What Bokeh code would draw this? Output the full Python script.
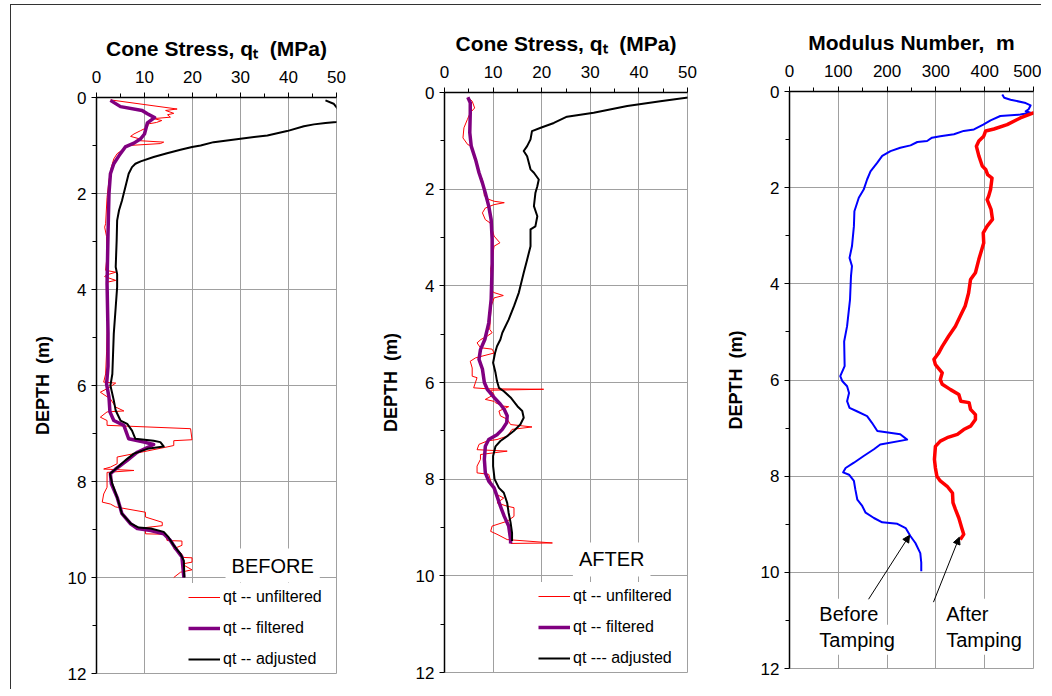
from bokeh.plotting import figure
from bokeh.models import Range1d, FixedTicker, Legend, LegendItem, Label, Arrow, NormalHead
from bokeh.layouts import row
from bokeh.embed import file_html
from bokeh.resources import INLINE

FONT = "Liberation Sans"

# ---------------- Panel 1: BEFORE (cone stress, MPa vs depth, m) ----------------
b_unf_d = [0.05, 0.24, 0.27, 0.33, 0.36, 0.41, 0.44, 0.48, 0.52, 0.55, 0.62, 0.69, 0.76, 0.81, 0.86,
           0.90, 0.93, 0.96, 1.00, 1.07, 1.12, 1.17, 1.28, 1.45, 1.73, 2.08, 2.63, 2.70, 2.90, 3.30,
           3.60, 3.64, 3.70, 3.73, 3.81, 3.85, 4.23, 4.60, 4.92, 5.30, 5.76, 5.93, 5.95, 6.05, 6.14,
           6.28, 6.45, 6.53, 6.55, 6.66, 6.73, 6.83, 6.90, 7.13, 7.15, 7.25, 7.28, 7.42, 7.49, 7.63,
           7.70, 7.74, 7.77, 7.81, 8.12, 8.26, 8.43, 8.47, 8.53, 8.64, 8.74, 8.85, 8.92, 8.96, 9.09,
           9.10, 9.23, 9.24, 9.33, 9.40, 9.51, 9.58, 9.59, 9.68, 9.72, 9.84, 9.89, 10.0]
b_unf_q = [2.9, 16.8, 14.4, 16.1, 14.8, 15.4, 11.9, 13.6, 12.5, 10.8, 10.6, 9.2, 7.8, 7.1, 8.9,
           9.0, 14.0, 13.3, 6.7, 5.7, 5.0, 4.3, 3.6, 3.1, 2.6, 2.2, 1.9, 1.7, 2.1, 2.2,
           1.9, 4.0, 2.0, 1.7, 4.0, 2.1, 2.1, 2.3, 2.2, 2.1, 1.9, 1.5, 4.0, 2.5, 0.8,
           2.9, 4.0, 5.7, 2.2, 0.8, 2.2, 2.2, 19.6, 19.9, 16.1, 16.1, 14.7, 7.8, 4.3, 4.3,
           2.9, 1.5, 7.8, 2.2, 2.2, 1.5, 1.2, 2.9, 4.0, 10.2, 10.2, 13.7, 13.7, 10.2, 10.2,
           14.4, 14.7, 17.8, 17.8, 16.1, 17.8, 17.8, 19.9, 19.9, 17.8, 19.9, 17.5, 16.1]

b_fil_d = [0.06, 0.19, 0.27, 0.34, 0.42, 0.53, 0.76, 0.86, 0.95, 1.03, 1.21, 1.38, 1.59, 2.0, 2.84,
           3.88, 4.9, 5.6, 5.97, 6.24, 6.55, 6.73, 6.83, 7.11, 7.18, 7.23, 7.39, 7.56, 7.74, 7.84,
           8.05, 8.33, 8.67, 8.88, 8.98, 9.02, 9.09, 9.23, 9.4, 9.57, 10.0]
b_fil_q = [2.9, 5.0, 9.5, 10.6, 12.1, 10.6, 10.0, 9.2, 7.8, 6.0, 4.7, 3.6, 2.9, 2.6, 2.4,
           2.2, 2.4, 2.4, 2.1, 2.6, 2.8, 3.6, 5.7, 6.7, 9.9, 11.9, 8.5, 6.4, 4.0, 2.9,
           3.1, 4.3, 5.3, 7.1, 8.5, 11.3, 14.0, 15.4, 16.5, 17.8, 18.2]

b_adj_d = [0.06, 0.13, 0.24, 0.37, 0.51, 0.53, 0.56, 0.6, 0.7, 0.79, 0.86, 0.93, 1.0, 1.03, 1.09,
           1.16, 1.24, 1.33, 1.38, 1.45, 1.59, 1.87, 2.15, 2.35, 2.56, 2.98, 3.53, 3.68, 3.95, 4.37,
           4.92, 5.76, 6.0, 6.31, 6.52, 6.73, 6.8, 6.94, 7.11, 7.15, 7.18, 7.27, 7.32, 7.42, 7.56,
           7.74, 7.84, 8.05, 8.33, 8.67, 8.87, 8.96, 8.98, 9.05, 9.16, 9.33, 9.51, 9.65, 10.0]
b_adj_q = [47.7, 49.4, 50.3, 62.0, 50.0, 47.7, 45.3, 43.2, 39.7, 35.6, 30.0, 24.4, 21.7, 19.9, 17.5,
           14.7, 11.9, 9.2, 8.1, 7.4, 6.7, 6.0, 5.3, 4.7, 4.3, 4.2, 4.0, 4.3, 4.3, 4.0,
           3.6, 3.3, 2.9, 3.6, 4.0, 5.0, 6.4, 7.4, 8.1, 11.9, 13.3, 14.0, 10.6, 7.8, 6.0,
           4.0, 2.8, 3.3, 4.3, 5.3, 7.1, 8.8, 11.3, 14.0, 15.0, 16.1, 17.5, 18.2, 18.3]

# ---------------- Panel 2: AFTER ----------------
a_unf_d = [0.1, 0.18, 0.32, 0.42, 0.56, 0.73, 0.94, 1.08, 1.11, 1.32, 1.52, 1.66, 1.8, 2.01, 2.14,
           2.21, 2.25, 2.28, 2.32, 2.39, 2.49, 2.63, 2.7, 2.83, 2.97, 3.11, 3.18, 3.46, 3.66, 4.01,
           4.08, 4.14, 4.2, 4.25, 4.42, 4.9, 4.97, 5.04, 5.11, 5.18, 5.28, 5.31, 5.39, 5.49, 5.56,
           5.7, 5.87, 5.9, 6.11, 6.13, 6.14, 6.16, 6.25, 6.35, 6.39, 6.42, 6.49, 6.5, 6.59, 6.69,
           6.76, 6.87, 6.92, 6.97, 7.11, 7.18, 7.21, 7.28, 7.39, 7.42, 7.49, 7.59, 7.73, 7.87, 7.9,
           8.14, 8.32, 8.39, 8.49, 8.56, 8.59, 8.77, 8.87, 8.97, 9.08, 9.14, 9.25, 9.32, 9.33]
a_unf_q = [4.8, 5.7, 6.2, 5.3, 4.7, 4.0, 3.8, 4.8, 5.7, 6.0, 6.7, 7.1, 7.8, 8.1, 8.2,
           9.1, 10.2, 12.3, 10.2, 8.4, 7.8, 8.4, 9.4, 9.8, 10.2, 11.4, 10.2, 9.8, 9.5, 9.8,
           9.5, 10.2, 12.1, 10.2, 9.6, 9.3, 9.8, 8.8, 7.5, 6.7, 7.4, 9.8, 10.2, 6.4, 5.3,
           5.7, 5.7, 6.7, 6.0, 8.8, 20.4, 9.5, 10.2, 8.4, 10.2, 10.5, 12.2, 13.2, 11.2, 11.5,
           12.9, 13.6, 18.0, 13.9, 12.9, 10.8, 8.8, 7.1, 6.7, 12.9, 7.4, 7.4, 6.7, 6.7, 9.1,
           9.8, 10.8, 12.2, 10.8, 12.9, 14.3, 14.3, 12.9, 9.8, 9.5, 10.8, 12.9, 22.2, 13.6]

a_fil_d = [0.1, 0.21, 0.42, 0.83, 1.11, 1.39, 1.66, 1.87, 2.08, 2.35, 2.63, 3.04, 3.59, 4.28, 4.77,
           5.11, 5.32, 5.52, 5.72, 6.0, 6.14, 6.31, 6.45, 6.56, 6.69, 6.83, 6.97, 7.08, 7.18, 7.32,
           7.59, 7.87, 8.04, 8.18, 8.35, 8.56, 8.77, 8.97, 9.25, 9.33]
a_fil_q = [4.8, 5.3, 5.3, 5.2, 5.5, 6.4, 7.1, 7.8, 8.4, 9.1, 9.6, 9.8, 9.8, 9.6, 9.1,
           8.3, 7.4, 7.1, 7.8, 8.2, 8.8, 10.2, 11.5, 12.3, 12.9, 12.8, 11.9, 10.8, 9.1, 8.4,
           8.2, 8.4, 9.1, 10.2, 10.8, 11.5, 12.3, 13.2, 13.6, 13.6]

a_adj_d = [0.1, 0.18, 0.28, 0.42, 0.5, 0.63, 0.73, 0.8, 0.97, 1.11, 1.21, 1.32, 1.59, 1.66, 1.8,
           1.94, 2.08, 2.35, 2.56, 2.77, 2.83, 3.18, 3.46, 3.73, 4.14, 4.42, 4.7, 4.97, 5.11, 5.25,
           5.39, 5.59, 5.8, 5.97, 6.11, 6.18, 6.31, 6.49, 6.59, 6.73, 6.87, 7.0, 7.11, 7.21, 7.32,
           7.52, 7.73, 8.0, 8.18, 8.28, 8.49, 8.7, 8.9, 9.11, 9.28]
a_adj_q = [50.5, 44.4, 37.6, 30.7, 25.2, 22.5, 19.8, 18.0, 17.7, 17.0, 16.3, 17.0, 17.7, 18.4, 19.4,
           19.1, 18.7, 18.4, 19.1, 18.7, 17.7, 17.7, 17.0, 16.3, 15.3, 14.3, 13.2, 11.9, 11.5, 10.8,
           10.4, 10.0, 10.5, 10.8, 11.2, 12.2, 13.6, 15.0, 16.0, 16.3, 15.6, 14.3, 12.9, 11.5, 10.5,
           10.0, 10.0, 10.3, 11.2, 12.2, 12.9, 13.2, 13.6, 13.9, 13.9]

# ---------------- Panel 3: modulus number ----------------
m_bef_d = [0.06, 0.13, 0.17, 0.24, 0.29, 0.37, 0.41, 0.44, 0.48, 0.51, 0.6, 0.69, 0.79, 0.82, 0.89,
           0.93, 0.96, 1.03, 1.05, 1.12, 1.17, 1.24, 1.34, 1.48, 1.66, 1.83, 2.04, 2.21, 2.49, 2.8,
           3.22, 3.46, 3.63, 3.84, 4.33, 4.88, 5.2, 5.71, 5.92, 6.02, 6.13, 6.27, 6.44, 6.58, 6.65,
           6.75, 6.89, 7.06, 7.13, 7.24, 7.34, 7.44, 7.58, 7.72, 7.83, 7.92, 7.97, 8.1, 8.28, 8.49,
           8.62, 8.76, 8.87, 8.96, 8.99, 9.08, 9.25, 9.39, 9.6, 9.8, 9.98]
m_bef_m = [436, 440, 453, 484, 494, 490, 484, 494, 473, 432, 412, 397, 378, 357, 337,
           309, 292, 282, 262, 248, 227, 207, 190, 180, 166, 159, 152, 142, 133, 132,
           128, 123, 128, 126, 124, 118, 112, 113, 104, 108, 118, 122, 118, 123, 138,
           159, 169, 180, 227, 241, 186, 173, 152, 132, 115, 110, 122, 132, 135, 139,
           149, 156, 173, 190, 221, 238, 248, 258, 268, 270, 270]

m_aft_d = [0.44, 0.55, 0.69, 0.78, 0.82, 0.93, 1.03, 1.14, 1.34, 1.55, 1.62, 1.73, 1.8, 2.04, 2.18,
           2.25, 2.45, 2.66, 2.8, 2.94, 3.15, 3.49, 3.77, 3.91, 4.19, 4.46, 4.67, 4.88, 5.09, 5.3,
           5.45, 5.57, 5.68, 5.85, 5.99, 6.09, 6.2, 6.3, 6.44, 6.47, 6.61, 6.72, 6.82, 6.96, 7.03,
           7.13, 7.2, 7.27, 7.38, 7.65, 7.83, 8.0, 8.1, 8.21, 8.35, 8.55, 8.69, 8.87, 9.08, 9.21,
           9.32]
m_aft_m = [501, 473, 446, 419, 402, 398, 388, 383, 388, 395, 402, 406, 415, 412, 408,
           405, 413, 416, 405, 397, 398, 388, 381, 371, 367, 360, 350, 340, 326, 313,
           305, 296, 299, 313, 309, 313, 330, 347, 351, 368, 371, 381, 381, 371, 357,
           344, 323, 309, 299, 297, 299, 302, 309, 323, 334, 335, 340, 347, 353, 357,
           350]

depth_major = [0, 2, 4, 6, 8, 10, 12]
depth_minor = [1, 3, 5, 7, 9, 11]
qc_major = [0, 10, 20, 30, 40, 50]
qc_minor = [5, 15, 25, 35, 45]
mod_major = [0, 100, 200, 300, 400, 500]
mod_minor = [50, 150, 250, 350, 450]

QC_TITLE = "Cone Stress, q\u209c\u00a0 (MPa)"
MOD_TITLE = "Modulus Number,\u00a0 m"
DEPTH_TITLE = "DEPTH\u00a0 (m)"

GRID = "#a0a0a0"


def make_panel(xmax, xmaj, xmin_, title, fw, fh, mbl, mbr, mbt, mbb, lift):
    p = figure(frame_width=fw, frame_height=fh,
               x_range=Range1d(0, xmax), y_range=Range1d(12, 0),
               x_axis_location="above", output_backend="svg", toolbar_location=None,
               title_location=None,
               min_border_left=mbl, min_border_right=mbr,
               min_border_top=mbt, min_border_bottom=mbb,
               background_fill_color="white", border_fill_color="white",
               border_fill_alpha=0.0, outline_line_color=GRID,
               styles={"margin-top": f"-{lift}px"} if lift else {})
    xt = FixedTicker(ticks=xmaj, minor_ticks=xmin_)
    yt = FixedTicker(ticks=depth_major, minor_ticks=depth_minor)
    p.xaxis.ticker = xt
    p.yaxis.ticker = yt
    p.xgrid.ticker = xt
    p.ygrid.ticker = yt
    for g in (p.xgrid, p.ygrid):
        g.grid_line_color = GRID
        g.grid_line_width = 1
    for ax in (p.xaxis, p.yaxis):
        ax.axis_line_color = "black"
        ax.axis_line_width = 1.5
        ax.major_tick_line_color = "black"
        ax.minor_tick_line_color = "black"
        ax.major_tick_in = 0
        ax.major_tick_out = 5
        ax.minor_tick_in = 0
        ax.minor_tick_out = 4
        ax.major_label_text_font = FONT
        ax.major_label_text_font_size = "17px"
        ax.major_label_text_color = "black"
        ax.axis_label_text_font = FONT
        ax.axis_label_text_font_style = "bold"
        ax.axis_label_text_color = "black"
    p.xaxis.axis_label = title
    p.xaxis.axis_label_text_font_size = "21px"
    p.xaxis.major_label_standoff = 10
    p.xaxis.axis_label_standoff = 8
    p.yaxis.axis_label = DEPTH_TITLE
    p.yaxis.axis_label_text_font_size = "18px"
    p.yaxis.major_label_standoff = 5
    p.yaxis.axis_label_standoff = 12
    return p


def add_legend(p, renderers, labels, xoff):
    items = [LegendItem(label=l, renderers=[r]) for l, r in zip(labels, renderers)]
    leg = Legend(items=items, location=(xoff, 0), padding=2, margin=0, spacing=3,
                 glyph_width=32, glyph_height=28, label_height=28, label_standoff=3,
                 label_text_font=FONT, label_text_font_size="16px", label_text_color="black",
                 background_fill_color="white", background_fill_alpha=1.0,
                 border_line_color=None)
    p.add_layout(leg)


# Panel 1
p1 = make_panel(50, qc_major, qc_minor, QC_TITLE, 240, 576, 85, 28, 92, 16, 0)
r1 = p1.line(b_unf_q, b_unf_d, line_color="#ff0000", line_width=1)
r2 = p1.line(b_fil_q, b_fil_d, line_color="#800080", line_width=3.5, line_join="round")
r3 = p1.line(b_adj_q, b_adj_d, line_color="black", line_width=2, line_join="round")
add_legend(p1, [r1, r2, r3], ["qt -- unfiltered", "qt -- filtered", "qt -- adjusted"], 92)
p1.add_layout(Label(x=36.7, y=9.75, text="BEFORE", text_align="center", text_baseline="middle",
                    text_font=FONT, text_font_size="20px", text_color="black",
                    background_fill_color="white", padding=6))

# Panel 2
p2 = make_panel(50, qc_major, qc_minor, QC_TITLE, 243, 580, 80, 22, 92, 16, 5)
s1 = p2.line(a_unf_q, a_unf_d, line_color="#ff0000", line_width=1)
s2 = p2.line(a_fil_q, a_fil_d, line_color="#800080", line_width=3.5, line_join="round")
s3 = p2.line(a_adj_q, a_adj_d, line_color="black", line_width=2, line_join="round")
add_legend(p2, [s1, s2, s3], ["qt -- unfiltered", "qt -- filtered", "qt --- adjusted"], 94)
p2.add_layout(Label(x=34.4, y=9.66, text="AFTER", text_align="center", text_baseline="middle",
                    text_font=FONT, text_font_size="20px", text_color="black",
                    background_fill_color="white", padding=6))

# Panel 3
p3 = make_panel(500, mod_major, mod_minor, MOD_TITLE, 244, 577, 80, 8, 92, 20, 6)
p3.line(m_bef_m, m_bef_d, line_color="#0000ff", line_width=2, line_join="round")
p3.line(m_aft_m, m_aft_d, line_color="#ff0000", line_width=3.5, line_join="round")
for txt, xx, yy in [("Before", 53, 10.86), ("Tamping", 53, 11.40),
                    ("After", 313, 10.86), ("Tamping", 313, 11.40)]:
    p3.add_layout(Label(x=xx, y=yy, text=txt, text_align="left", text_baseline="middle",
                        text_font=FONT, text_font_size="20px", text_color="black",
                        background_fill_color="white", padding=4))
for xs, ys, xe, ye in [(162, 10.56, 246, 9.23), (295, 10.62, 348, 9.27)]:
    p3.add_layout(Arrow(end=NormalHead(size=7, line_color="black", fill_color="black"),
                        x_start=xs, y_start=ys, x_end=xe, y_end=ye,
                        line_color="black", line_width=1))

layout = row(p1, p2, p3, styles={"border-top": "1px solid #333", "border-left": "1px solid #333",
                                 "margin-top": "4px", "margin-left": "10px"})

with open("out.html", "w") as f:
    f.write(file_html(layout, INLINE))
